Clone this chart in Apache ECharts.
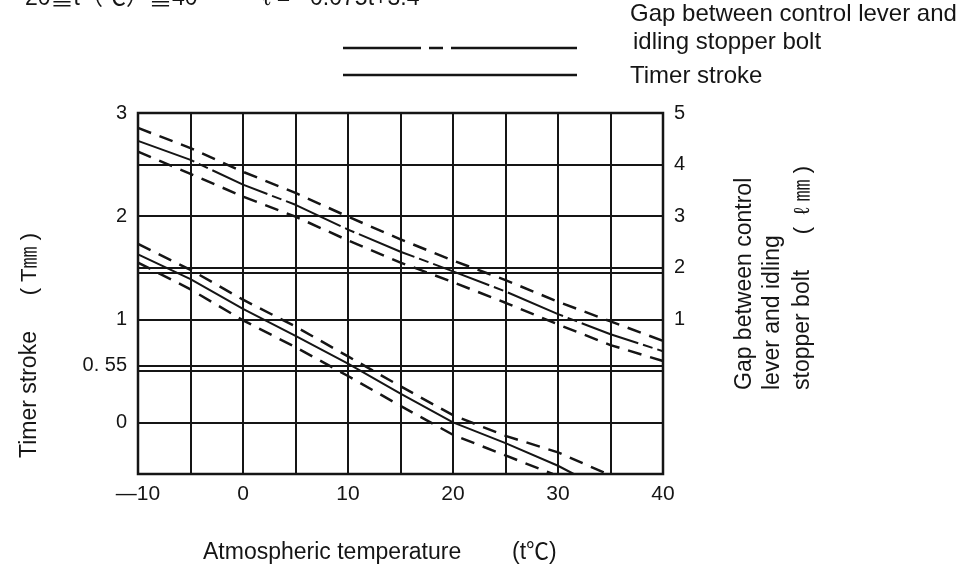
<!DOCTYPE html>
<html>
<head>
<meta charset="utf-8">
<script src="https://cdn.jsdelivr.net/npm/echarts@6/dist/echarts.min.js"></script>
<style>
html,body{margin:0;padding:0;background:#fff;}
#chart{width:970px;height:566px;}
</style>
</head>
<body>
<div id="chart"></div>
<script>
// ---- data ----
var gapTemps = [-10, -5, 0, 5, 10, 15, 20, 25, 30, 35, 40];
var gapCenter = [4.46, 4.09, 3.61, 3.22, 2.74, 2.31, 1.93, 1.54, 1.10, 0.71, 0.38];
var gapUpper  = [4.71, 4.32, 3.86, 3.45, 2.99, 2.55, 2.14, 1.76, 1.34, 0.96, 0.58];
var gapLower  = [4.25, 3.82, 3.38, 2.99, 2.53, 2.10, 1.72, 1.32, 0.90, 0.50, 0.19];

var timerCenterTemps = [-10, -5, 0, 5, 10, 15, 20, 25, 30, 31.5];
var timerCenter      = [1.63, 1.39, 1.10, 0.84, 0.57, 0.28, 0.00, -0.20, -0.42, -0.5];
var timerUpperTemps  = [-10, -5, 0, 5, 10, 15, 20, 25, 30, 34.7];
var timerUpper       = [1.73, 1.48, 1.19, 0.93, 0.64, 0.35, 0.07, -0.13, -0.29, -0.5];
var timerLowerTemps  = [-10, -5, 0, 5, 10, 15, 20, 25, 29.5];
var timerLower       = [1.55, 1.29, 0.99, 0.73, 0.45, 0.16, -0.12, -0.32, -0.5];

var timerRef = 0.55;   // extra reference line on the timer-stroke axis
var gapRef = 1.9;      // extra reference line on the gap axis

var xTickLabels = {'-10': '\u201410', '0': '0', '10': '10', '20': '20', '30': '30', '40': '40'};
var leftTickLabels = {'0': '0', '0.55': '0. 55', '1': '1', '2': '2', '3': '3'};
var leftLabelValues = [0, 0.55, 1, 2, 3];
var rightTickLabels = {'1': '1', '2': '2', '3': '3', '4': '4', '5': '5'};

var legendGapText = ['Gap between control lever and', 'idling stopper bolt'];
var legendTimerText = 'Timer stroke';
var headerLeft = '20\u2266t\uff08\u2103\uff09\u226640';
var headerRight = '\u2113 = \u22120.075t+3.4';
var xName = 'Atmospheric temperature';
var xUnit = '(t\u2103)';
var leftName = 'Timer stroke';
var leftUnit = '( T\u339c )';
var rightNameLines = ['Gap between control', 'lever and idling', 'stopper bolt'];
var rightUnit = '(  \u2113 \u339c )';

function pairs(xs, ys) { return xs.map(function (x, i) { return [x, ys[i]]; }); }

var INK = '#151515';
var FONT = '"Liberation Sans", Arial, "Noto Sans CJK JP", sans-serif';
var dashStyle = [14, 9];
var dashDot = [60, 5, 10, 5];

var chart = echarts.init(document.getElementById('chart'));
var option = {
  animation: false,
  backgroundColor: '#fff',
  grid: {left: 138, right: 307, top: 113, bottom: 92, show: true, borderColor: INK, borderWidth: 2.5},
  xAxis: {
    type: 'value', min: -10, max: 40, interval: 5,
    axisLine: {show: false}, axisTick: {show: false},
    axisLabel: {
      margin: 10, fontSize: 21, color: INK, fontFamily: FONT,
      formatter: function (v) { return xTickLabels[String(v)] || ''; }
    },
    splitLine: {show: true, lineStyle: {color: INK, width: 2}}
  },
  yAxis: [{
    type: 'value', position: 'left', min: -0.5, max: 3, interval: 0.5,
    axisLine: {show: false}, axisTick: {show: false},
    axisLabel: {
      customValues: leftLabelValues,
      margin: 11, fontSize: 20, color: INK, fontFamily: FONT, padding: [8, 0, 0, 0],
      formatter: function (v) { return leftTickLabels[String(Math.round(v * 100) / 100)] || ''; }
    },
    splitLine: {show: true, lineStyle: {color: INK, width: 2}}
  }, {
    type: 'value', position: 'right', min: -2, max: 5, interval: 1,
    axisLine: {show: false}, axisTick: {show: false},
    axisLabel: {
      margin: 11, fontSize: 20, color: INK, fontFamily: FONT, padding: [10, 0, 0, 0],
      formatter: function (v) { return rightTickLabels[String(v)] || ''; }
    },
    splitLine: {show: false}
  }],
  series: [
    {name: 'Gap', type: 'line', yAxisIndex: 1, data: pairs(gapTemps, gapCenter), symbol: 'none',
     lineStyle: {color: INK, width: 2, type: dashDot},
     markLine: {silent: true, symbol: 'none', label: {show: false},
       lineStyle: {color: INK, width: 2, type: 'solid'}, data: [{yAxis: gapRef}]}},
    {name: 'Gap upper', type: 'line', yAxisIndex: 1, data: pairs(gapTemps, gapUpper), symbol: 'none',
     lineStyle: {color: INK, width: 2.5, type: dashStyle}},
    {name: 'Gap lower', type: 'line', yAxisIndex: 1, data: pairs(gapTemps, gapLower), symbol: 'none',
     lineStyle: {color: INK, width: 2.5, type: dashStyle}},
    {name: 'Timer stroke', type: 'line', yAxisIndex: 0, data: pairs(timerCenterTemps, timerCenter), symbol: 'none',
     lineStyle: {color: INK, width: 2, type: 'solid'},
     markLine: {silent: true, symbol: 'none', label: {show: false},
       lineStyle: {color: INK, width: 2, type: 'solid'}, data: [{yAxis: timerRef}]}},
    {name: 'Timer upper', type: 'line', yAxisIndex: 0, data: pairs(timerUpperTemps, timerUpper), symbol: 'none',
     lineStyle: {color: INK, width: 2.5, type: dashStyle}},
    {name: 'Timer lower', type: 'line', yAxisIndex: 0, data: pairs(timerLowerTemps, timerLower), symbol: 'none',
     lineStyle: {color: INK, width: 2.5, type: dashStyle}}
  ],
  graphic: [
    // header (cut off by the top edge in the reference)
    {type: 'text', x: 25, y: -1, style: {text: headerLeft, font: '23px ' + FONT, fill: INK, align: 'left', verticalAlign: 'middle'}},
    {type: 'text', x: 263, y: -1, style: {text: headerRight, font: '23px ' + FONT, fill: INK, align: 'left', verticalAlign: 'middle'}},
    // legend
    {type: 'line', shape: {x1: 343, y1: 48, x2: 577, y2: 48}, style: {stroke: INK, lineWidth: 2.5, lineDash: [78, 8, 14, 8, 200, 0]}},
    {type: 'line', shape: {x1: 343, y1: 75, x2: 577, y2: 75}, style: {stroke: INK, lineWidth: 2.5}},
    {type: 'text', x: 630, y: 14, style: {text: legendGapText[0], font: '24px ' + FONT, fill: INK, align: 'left', verticalAlign: 'middle'}},
    {type: 'text', x: 633, y: 42, style: {text: legendGapText[1], font: '24px ' + FONT, fill: INK, align: 'left', verticalAlign: 'middle'}},
    {type: 'text', x: 630, y: 76, style: {text: legendTimerText, font: '24px ' + FONT, fill: INK, align: 'left', verticalAlign: 'middle'}},
    // x axis name
    {type: 'text', x: 203, y: 553, style: {text: xName, font: '23px ' + FONT, fill: INK, align: 'left', verticalAlign: 'middle'}},
    {type: 'text', x: 512, y: 553, style: {text: xUnit, font: '23px ' + FONT, fill: INK, align: 'left', verticalAlign: 'middle'}},
    // left axis name (rotated, reading bottom to top)
    {type: 'text', x: 30, y: 458, rotation: Math.PI / 2, style: {text: leftName, font: '23px ' + FONT, fill: INK, align: 'left', verticalAlign: 'middle'}},
    {type: 'text', x: 30, y: 233, rotation: Math.PI / 2, style: {text: leftUnit, font: '22px ' + FONT, fill: INK, align: 'right', verticalAlign: 'middle'}},
    // right axis name
    {type: 'text', x: 745, y: 390, rotation: Math.PI / 2, style: {text: rightNameLines[0], font: '23px ' + FONT, fill: INK, align: 'left', verticalAlign: 'middle'}},
    {type: 'text', x: 773, y: 390, rotation: Math.PI / 2, style: {text: rightNameLines[1], font: '23px ' + FONT, fill: INK, align: 'left', verticalAlign: 'middle'}},
    {type: 'text', x: 803, y: 390, rotation: Math.PI / 2, style: {text: rightNameLines[2], font: '23px ' + FONT, fill: INK, align: 'left', verticalAlign: 'middle'}},
    {type: 'text', x: 803, y: 166, rotation: Math.PI / 2, style: {text: rightUnit, font: '22px ' + FONT, fill: INK, align: 'right', verticalAlign: 'middle'}}
  ]
};
chart.setOption(option);
</script>
</body>
</html>
